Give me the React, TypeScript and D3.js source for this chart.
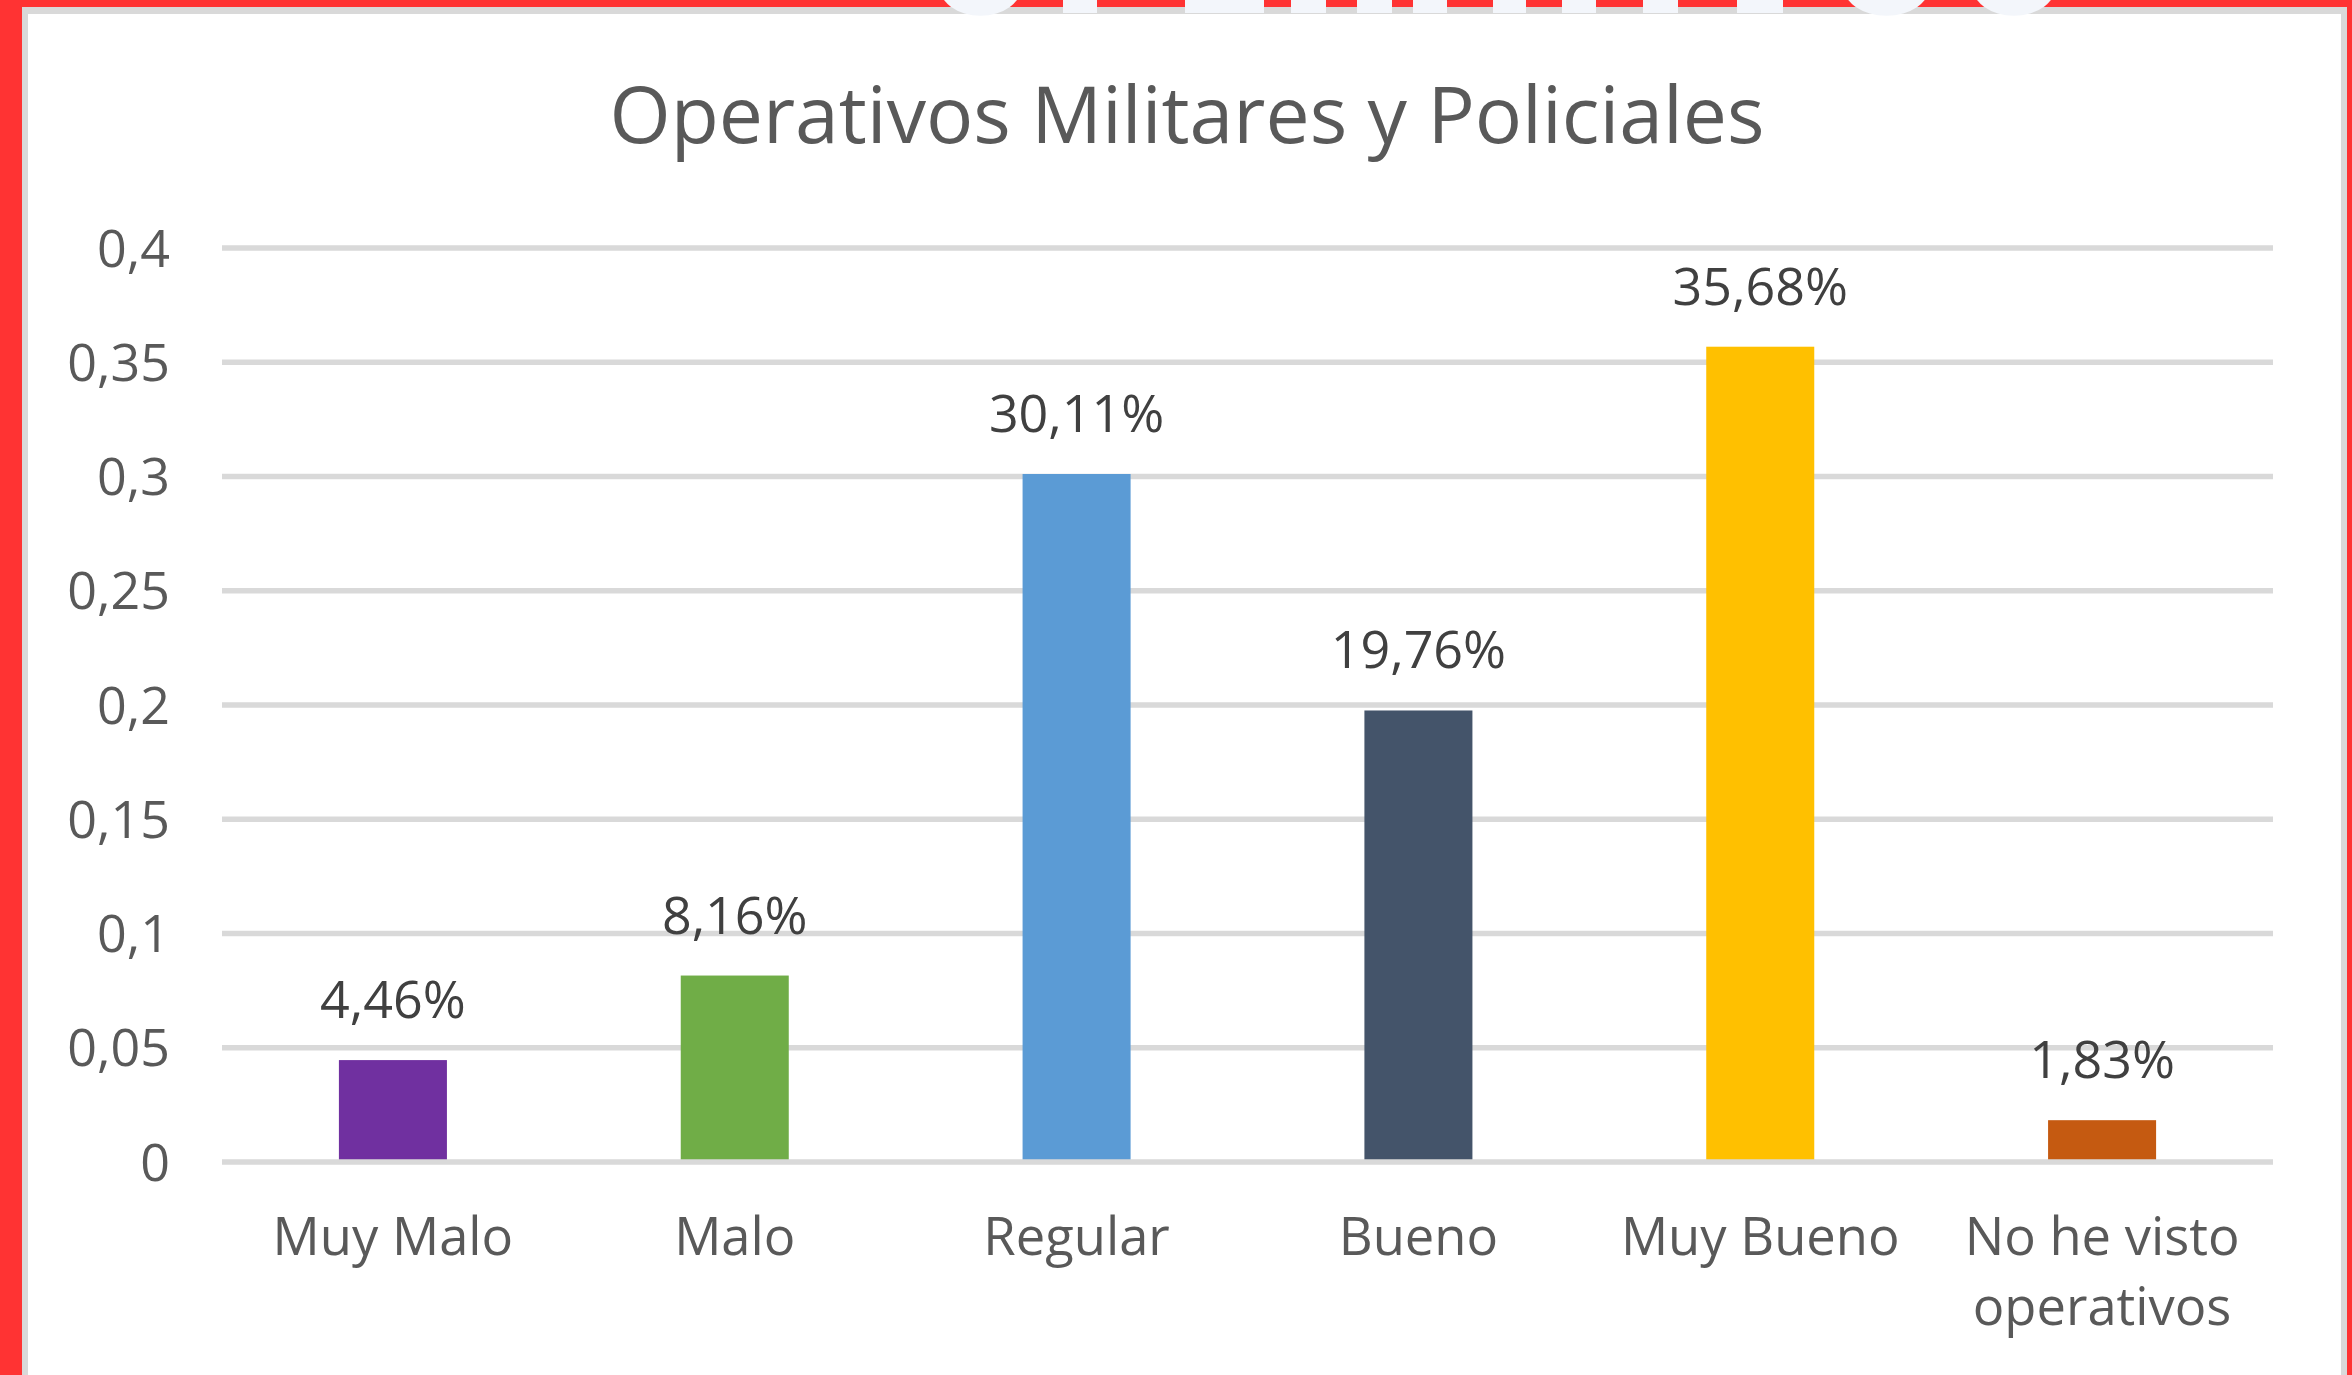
import React, { useEffect } from "react";
import * as d3 from "d3";

const categories = ["Muy Malo", "Malo", "Regular", "Bueno", "Muy Bueno", "No he visto operativos"];
const values = [0.0446, 0.0816, 0.3011, 0.1976, 0.3568, 0.0183];
const valueLabels = ["4,46%", "8,16%", "30,11%", "19,76%", "35,68%", "1,83%"];
const barColors = ["#7030A0", "#70AD47", "#5B9BD5", "#44546A", "#FFC000", "#C55A11"];
const yTicks = [0, 0.05, 0.1, 0.15, 0.2, 0.25, 0.3, 0.35, 0.4];
const yTickLabels = ["0", "0,05", "0,1", "0,15", "0,2", "0,25", "0,3", "0,35", "0,4"];
const categoryLines = [["Muy Malo"], ["Malo"], ["Regular"], ["Bueno"], ["Muy Bueno"], ["No he visto", "operativos"]];
const title = "Operativos Militares y Policiales";

// decorative fragments of a clipped heading peeking over the top border
const topRects = [
  [1063, 1097], [1185, 1264], [1291, 1326], [1357, 1392], [1413, 1447],
  [1493, 1526], [1562, 1596], [1643, 1678], [1737, 1783],
];
const topEllipses = [[942, 1019], [1846, 1927], [1975, 2053]];

const W = 2352;
const H = 1375;
const FONT = "'Open Sans', 'Noto Sans', sans-serif";

export default function App() {
  useEffect(() => {
    document.body.style.margin = "0";
    document.body.style.overflow = "hidden";
  }, []);

  const x = d3.scaleBand<string>().domain(categories).range([222, 2273]).paddingInner(0.684).paddingOuter(0.342);
  const y = d3.scaleLinear().domain([0, 0.4]).range([1162, 248]);

  return (
    <svg width={W} height={H} style={{ position: "absolute", left: 0, top: 0, display: "block" }}>
      <rect x={0} y={0} width={W} height={H} fill="#FF3333" />
      <rect x={22} y={7} width={2325} height={H} fill="#D9D9D9" />
      <rect x={28} y={14} width={2313} height={H} fill="#FFFFFF" />
      {topRects.map(([a, b], i) => (
        <rect key={"tr" + i} x={a} y={0} width={b - a} height={13} fill="#F3F6FB" />
      ))}
      {topEllipses.map(([a, b], i) => (
        <ellipse key={"te" + i} cx={(a + b) / 2} cy={-14.3} rx={(b - a) / 2 + 3} ry={30} fill="#F3F6FB" />
      ))}

      <text x={1187} y={143} textAnchor="middle" fontFamily={FONT} fontSize={78} fill="#595959" textLength={1155} lengthAdjust="spacingAndGlyphs">
        {title}
      </text>

      {yTicks.map((t, i) =>
        t === 0 ? null : (
          <line key={"g" + i} x1={222} x2={2273} y1={y(t)} y2={y(t)} stroke="#D9D9D9" strokeWidth={5.5} />
        )
      )}
      {yTicks.map((t, i) => (
        <text key={"yl" + i} x={170} y={y(t)} dy="0.36em" textAnchor="end" fontFamily={FONT} fontSize={52} fill="#595959">
          {yTickLabels[i]}
        </text>
      ))}

      {categories.map((c, i) => (
        <rect key={"b" + i} x={x(c)} y={y(values[i])} width={x.bandwidth()} height={y(0) - y(values[i])} fill={barColors[i]} />
      ))}
      <line x1={222} x2={2273} y1={y(0)} y2={y(0)} stroke="#D9D9D9" strokeWidth={5.5} />

      {categories.map((c, i) => (
        <text key={"v" + i} x={(x(c) as number) + x.bandwidth() / 2} y={y(values[i]) - 42} textAnchor="middle" fontFamily={FONT} fontSize={52} fill="#404040">
          {valueLabels[i]}
        </text>
      ))}

      {categories.map((c, i) => (
        <text key={"c" + i} x={(x(c) as number) + x.bandwidth() / 2} y={1255} textAnchor="middle" fontFamily={FONT} fontSize={52.5} fill="#595959">
          {categoryLines[i].map((ln, j) => (
            <tspan key={j} x={(x(c) as number) + x.bandwidth() / 2} y={1255 + j * 70}>
              {ln}
            </tspan>
          ))}
        </text>
      ))}
    </svg>
  );
}
